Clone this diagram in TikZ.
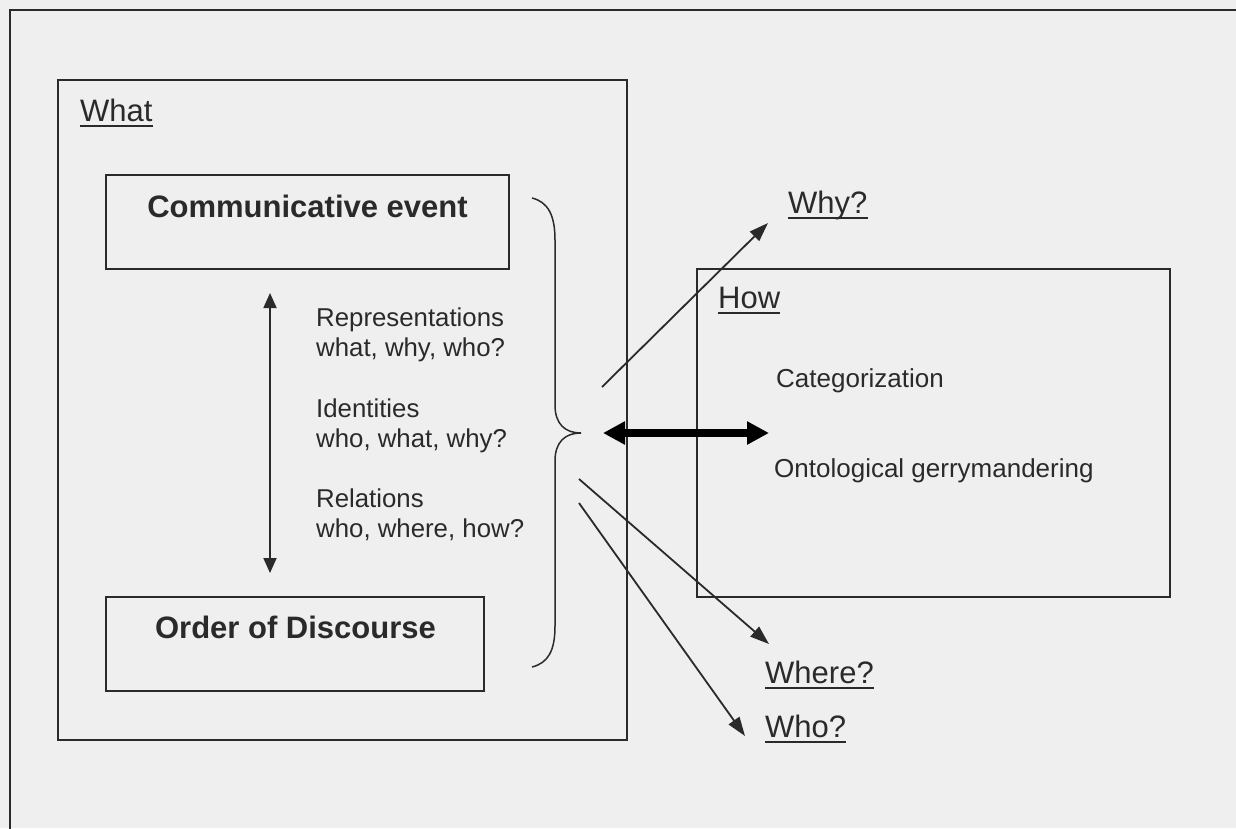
\documentclass[tikz,border=0pt]{standalone}
\usepackage{fontspec}
\setmainfont{Liberation Sans}
\usetikzlibrary{arrows.meta}
\definecolor{paper}{HTML}{EFEFEF}
\definecolor{ink}{HTML}{2A2A2A}
\tikzset{
  frame/.style={draw=ink, line width=2.2pt},
  box/.style={draw=ink, line width=1.8pt},
  heading/.style={font=\fontsize{31}{36}\selectfont\bfseries, text=ink, inner sep=0pt, anchor=base},
  label/.style={font=\fontsize{31}{36}\selectfont, text=ink, inner sep=0pt, anchor=base west},
  underline/.style={draw=ink, line width=2pt},
  body/.style={font=\fontsize{25.8}{30}\selectfont, text=ink, inner sep=0pt, anchor=base west, align=left},
  howtext/.style={font=\fontsize{26}{30}\selectfont, text=ink, inner sep=0pt, anchor=base west},
  thin arrow/.style={draw=ink, line width=1.8pt, -{Triangle[length=19pt,width=13pt]}},
  both arrow/.style={draw=ink, line width=1.8pt, {Triangle[length=15pt,width=13pt]}-{Triangle[length=15pt,width=13pt]}},
  thick arrow/.style={draw=black, line width=8pt, {Triangle[length=22pt,width=22pt]}-{Triangle[length=22pt,width=22pt]}},
}
\begin{document}
\begin{tikzpicture}[x=1pt,y=-1pt]
  % paper and outer frame
  \fill[paper] (0,0) rectangle (1236,828);
  \useasboundingbox (0,0) rectangle (1236,828);
  \draw[frame] (10,840) -- (10,10) -- (1250,10);

  % "What" panel
  \draw[box] (58,80) rectangle (627,740);
  \node[label] (what) at (80,121) {What};

  \draw[box] (106,175) rectangle (509,269);
  \node[heading] (event) at (307.5,217) {Communicative event};

  \draw[box] (106,597) rectangle (484,691);
  \node[heading] (order) at (295.5,638) {Order of Discourse};

  \coordinate (vtop) at (270,293);
  \coordinate (vbot) at (270,573);
  \draw[both arrow] (vtop) -- (vbot);

  \node[body] (rep) at (316,356) {Representations\\what, why, who?};
  \node[body] (ide) at (316,447) {Identities\\who, what, why?};
  \node[body] (rel) at (316,537) {Relations\\who, where, how?};

  % brace gathering the three dimensions
  \coordinate (btop) at (532,198);
  \coordinate (btip) at (581,433);
  \coordinate (bbot) at (532,667);
  \draw[draw=ink, line width=1.5pt]
    (btop) .. controls (548,202) and (555,215) .. (555,240)
    -- (555,405) .. controls (555,424) and (565,433) .. (btip)
    .. controls (565,433) and (555,442) .. (555,461)
    -- (555,626) .. controls (555,651) and (548,663) .. (bbot);

  % "How" panel
  \draw[box] (697,269) rectangle (1170,597);
  \node[label] (how) at (718,308) {How};
  \node[howtext] (cat) at (776,387) {Categorization};
  \node[howtext] (onto) at (774,477) {Ontological gerrymandering};

  % outgoing questions
  \node[label] (why) at (788,213) {Why?};
  \node[label] (where) at (765,683) {Where?};
  \node[label] (who) at (765,737) {Who?};

  % underlined labels
  \foreach \n in {what,how,why,where,who}
    \draw[underline] ([yshift=-5pt]\n.base west) -- ([yshift=-5pt]\n.base east);

  \coordinate (whyfrom) at (602,387);
  \coordinate (whyto) at (768,223);
  \coordinate (wherefrom) at (579,479);
  \coordinate (whereto) at (769,644);
  \coordinate (whofrom) at (579,503);
  \coordinate (whoto) at (745,736);
  \coordinate (linkl) at (603,433);
  \coordinate (linkr) at (769,433);

  \draw[thin arrow] (whyfrom) -- (whyto);
  \draw[thin arrow] (wherefrom) -- (whereto);
  \draw[thin arrow] (whofrom) -- (whoto);
  \draw[thick arrow] (linkl) -- (linkr);
\end{tikzpicture}
\end{document}
